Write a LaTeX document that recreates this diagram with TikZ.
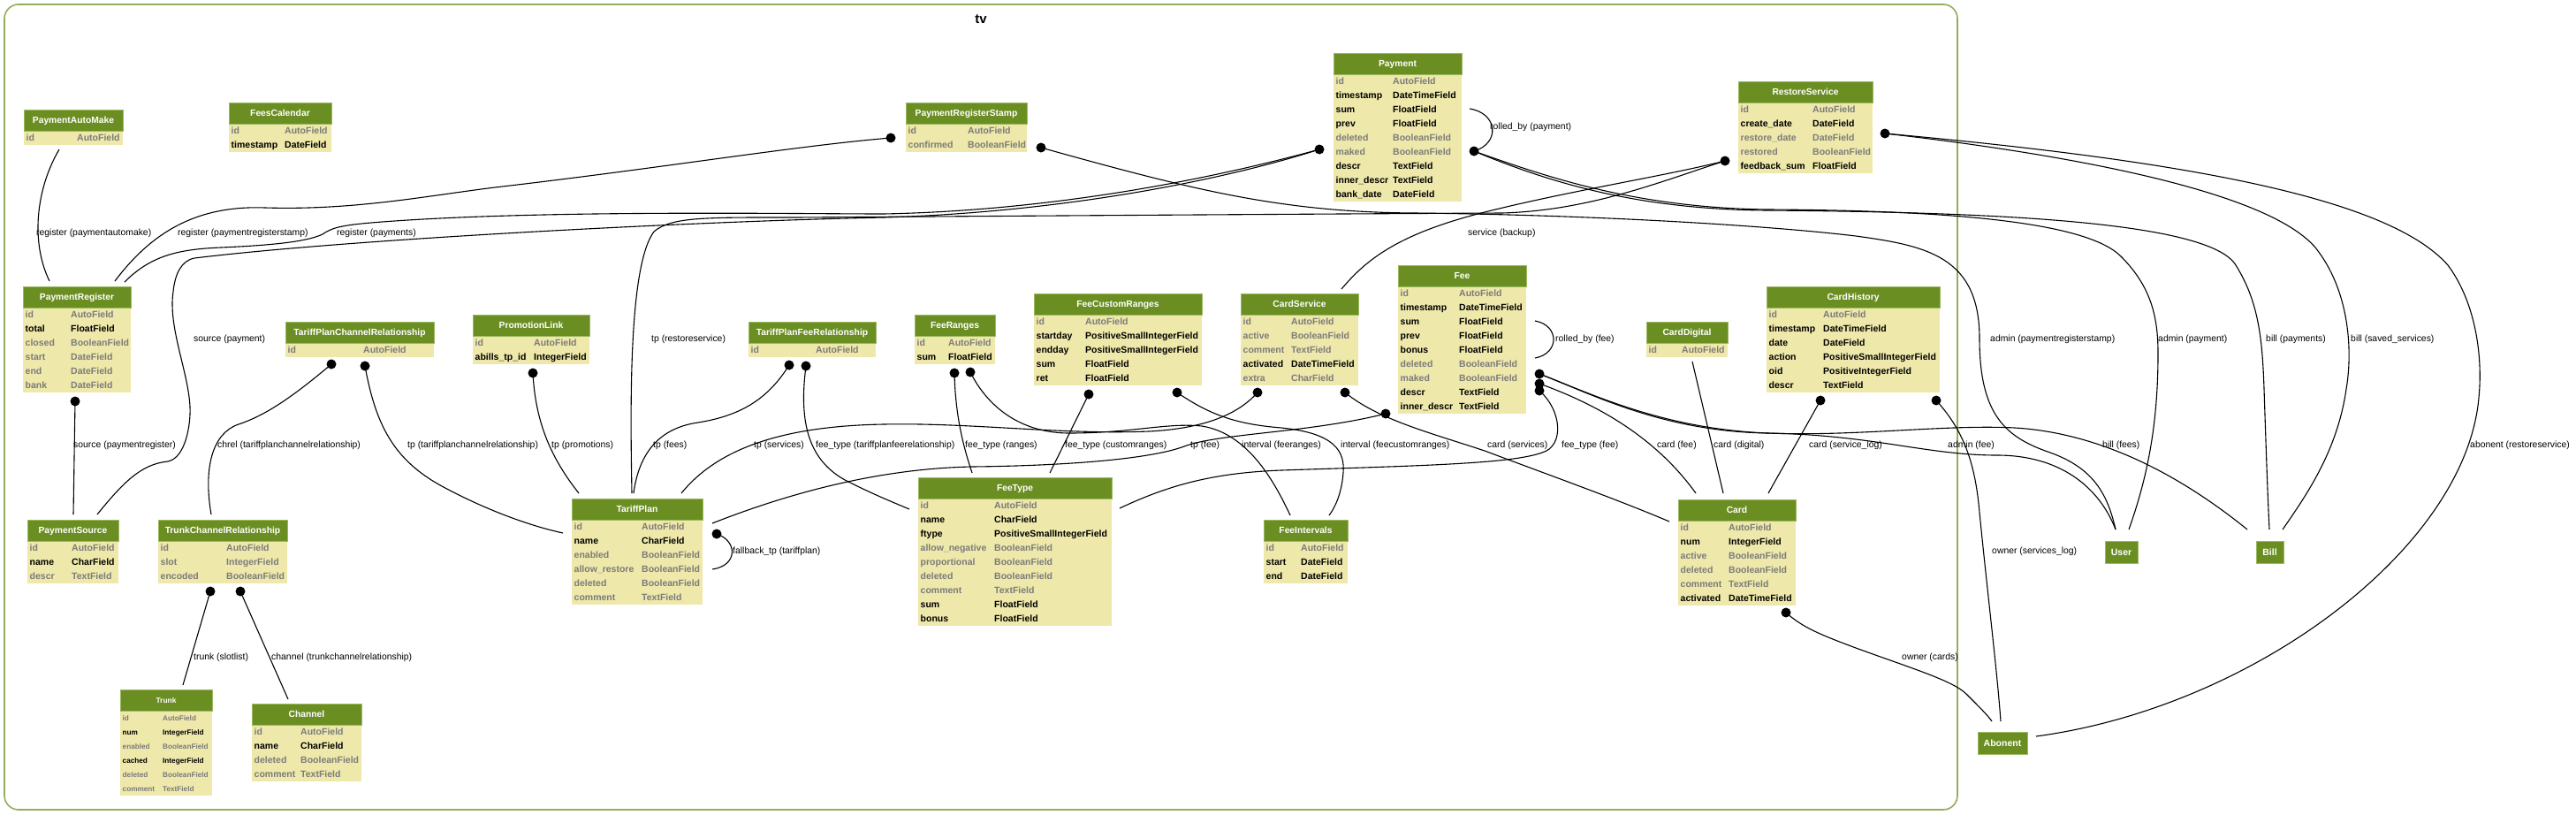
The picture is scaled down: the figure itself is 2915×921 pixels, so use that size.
\documentclass[tikz,border=0pt]{standalone}
\usepackage{fontspec}
\setmainfont{Liberation Sans}
\definecolor{hdr}{RGB}{107,142,35}
\definecolor{hdrline}{RGB}{155,185,95}
\definecolor{bdy}{RGB}{238,232,170}
\definecolor{gtxt}{RGB}{123,123,123}
\definecolor{clus}{RGB}{145,175,90}
\newcommand\fsz{10.5}
\newcommand\tsz{10.3}
\newcommand\dbtable[8]{%
  \pgfmathsetmacro\tbh{24+16*#7}%
  \node[tblframe, minimum width=#4pt, minimum height=\tbh pt, anchor=north west] (#1) at (#2,#3) {};
  \fill[bdy] (#2,#3+24) rectangle ++(#4,16*#7);
  \fill[hdr] (#2,#3) rectangle ++(#4,24);
  \draw[hdrline, line width=0.8pt] (#2,#3) rectangle ++(#4,24);
  \node[ttl] (#1-t) at (#2+#4/2,#3+15.8) {#6};
  \foreach \fa/\fb/\fc [count=\ri] in {#8} {
    \node[fld,\fc] (#1-a\ri) at (#2+2.5,#3+24+16*\ri-4.2) {\fa};
    \node[fld,\fc] (#1-b\ri) at (#5,#3+24+16*\ri-4.2) {\fb};
  }%
}
\tikzset{
  tblframe/.style={inner sep=0pt, outer sep=0pt},
  ttl/.style={anchor=base, inner sep=0pt, text=white, font=\fontsize{\tsz}{12}\selectfont\bfseries},
  fld/.style={anchor=base west, inner sep=0pt, font=\fontsize{\fsz}{12}\selectfont\bfseries},
  gry/.style={text=gtxt},
  blk/.style={text=black},
  lbl/.style={anchor=base west, inner sep=0pt, font=\fontsize{10.4}{12}\selectfont},
  conn/.style={line width=1.1pt, black},
  extbox/.style={fill=hdr, draw=hdrline, line width=0.8pt, text=white, inner sep=0pt, minimum height=25pt, font=\fontsize{10.5}{12}\selectfont\bfseries},
}
\begin{document}
\begin{tikzpicture}[x=1pt,y=-1pt]
\useasboundingbox (0,0) rectangle (2915,921);
\fill[white] (0,0) rectangle (2915,921);
% cluster
\draw[clus, line width=1.6pt, rounded corners=16pt] (5,5) rectangle (2215,916);
\node[font=\fontsize{15}{17}\selectfont\bfseries, inner sep=0pt] (tvtitle) at (1110,22) {tv};

% coordinates: dots
\coordinate (prs-l) at (1008,156);
\coordinate (prs-r) at (1178,167);
\coordinate (pay-l) at (1493,169);
\coordinate (pay-r) at (1668,171);
\coordinate (rs-l) at (1952,182);
\coordinate (rs-r) at (2133,151);
\coordinate (pr-b) at (85,454);
\coordinate (tpcr-1) at (375,412);
\coordinate (tpcr-2) at (413,414);
\coordinate (pl-b) at (603,422);
\coordinate (tpfr-1) at (893,413);
\coordinate (tpfr-2) at (912,414);
\coordinate (fr-1) at (1080,422);
\coordinate (fr-2) at (1098,421);
\coordinate (fcr-1) at (1232,446);
\coordinate (fcr-2) at (1332,444);
\coordinate (cs-1) at (1423,444);
\coordinate (cs-2) at (1522,444);
\coordinate (fee-l) at (1568,468);
\coordinate (fee-r1) at (1742,423);
\coordinate (fee-r2) at (1742,434);
\coordinate (fee-r3) at (1742,442);
\coordinate (tp-r) at (811,604);
\coordinate (ch-1) at (2060,453);
\coordinate (ch-2) at (2191,453);
\coordinate (card-b) at (2021,693);
\coordinate (tcr-1) at (238,669);
\coordinate (tcr-2) at (272,669);
% coordinates: free ends
\coordinate (pam-b) at (67,169);
\coordinate (pr-t1) at (56,318);
\coordinate (pr-t2) at (130,318);
\coordinate (pr-t3) at (141,319);
\coordinate (ps-t1) at (83,582);
\coordinate (ps-t2) at (110,582);
\coordinate (tcr-t) at (239,582);
\coordinate (tp-l) at (637,603);
\coordinate (tp-t1) at (655,558);
\coordinate (tp-t2) at (715,558);
\coordinate (tp-t3) at (717,558);
\coordinate (tp-t4) at (771,558);
\coordinate (tp-r2) at (806,592);
\coordinate (tp-r3) at (806,644);
\coordinate (ft-l) at (1029,576);
\coordinate (ft-t1) at (1100,535);
\coordinate (ft-t2) at (1188,535);
\coordinate (ft-r) at (1267,575);
\coordinate (fi-t1) at (1460,583);
\coordinate (fi-t2) at (1504,583);
\coordinate (cs-t) at (1518,327);
\coordinate (card-l) at (1889,590);
\coordinate (card-t1) at (1919,558);
\coordinate (card-t2) at (1950,558);
\coordinate (card-t3) at (2001,558);
\coordinate (cd-b) at (1915,409);
\coordinate (trunk-t) at (207,775);
\coordinate (chan-t) at (326,791);
\coordinate (user-t1) at (2394,599);
\coordinate (user-t2) at (2409,599);
\coordinate (bill-t1) at (2543,599);
\coordinate (bill-t2) at (2568,599);
\coordinate (bill-t3) at (2583,599);
\coordinate (ab-t1) at (2254,816);
\coordinate (ab-t2) at (2264,816);
\coordinate (ab-r) at (2304,833);
\coordinate (pay-lp) at (1663,123);
\coordinate (fee-lp1) at (1737,363);
\coordinate (fee-lp2) at (1737,405);

% edges
\draw[conn] (pam-b) .. controls (40,215) and (35,275) .. (pr-t1);
\draw[conn] (pr-t2) .. controls (170,265) and (220,232) .. (300,235) .. controls (400,238) and (480,222) .. (560,212) .. controls (750,190) and (900,165) .. (prs-l);
\draw[conn] (pr-t3) .. controls (170,290) and (200,282) .. (250,280) .. controls (320,277) and (350,272) .. (365,265) .. controls (375,258) and (385,255) .. (420,252) .. controls (600,237) and (900,242) .. (1000,242) .. controls (1200,238) and (1380,200) .. (pay-l);
\draw[conn] (ps-t2) .. controls (140,545) and (160,525) .. (190,522) .. controls (210,518) and (216,480) .. (215,460) .. controls (213,420) and (190,370) .. (196,330) .. controls (198,310) and (205,295) .. (220,292) .. controls (400,270) and (800,250) .. (1000,246) .. controls (1200,240) and (1380,205) .. (pay-l);
\draw[conn] (pr-b) -- (ps-t1);
\draw[conn] (tpcr-1) .. controls (330,450) and (300,470) .. (270,480) .. controls (240,490) and (230,530) .. (tcr-t);
\draw[conn] (tpcr-2) .. controls (425,480) and (445,520) .. (500,550) .. controls (550,577) and (600,595) .. (tp-l);
\draw[conn] (pl-b) .. controls (606,480) and (625,520) .. (tp-t1);
\draw[conn] (tp-t2) .. controls (713,450) and (712,300) .. (740,262) .. controls (760,245) and (800,246) .. (900,246) .. controls (1200,244) and (1500,242) .. (1700,241) .. controls (1800,238) and (1880,205) .. (rs-l);
\draw[conn] (cs-t) .. controls (1545,295) and (1580,265) .. (1680,240) .. controls (1780,215) and (1880,200) .. (rs-l);
\draw[conn] (prs-r) .. controls (1350,215) and (1450,240) .. (1600,241) .. controls (1800,243) and (2000,255) .. (2100,267) .. controls (2180,278) and (2240,290) .. (2240,383) .. controls (2240,470) and (2270,495) .. (2320,512) .. controls (2370,530) and (2385,560) .. (user-t1);
\draw[conn] (pay-r) .. controls (1750,200) and (1850,235) .. (2000,237) .. controls (2200,238) and (2360,250) .. (2400,290) .. controls (2435,325) and (2442,360) .. (2442,400) .. controls (2442,480) and (2430,540) .. (user-t2);
\draw[conn] (pay-r) .. controls (1750,205) and (1850,237) .. (2000,238) .. controls (2250,240) and (2500,250) .. (2530,300) .. controls (2555,340) and (2560,380) .. (2562,440) .. controls (2564,500) and (2566,560) .. (bill-t2);
\draw[conn] (rs-r) .. controls (2300,170) and (2560,210) .. (2620,280) .. controls (2660,330) and (2662,400) .. (2655,440) .. controls (2645,510) and (2610,560) .. (bill-t3);
\draw[conn] (rs-r) .. controls (2450,180) and (2700,220) .. (2770,300) .. controls (2800,340) and (2810,400) .. (2805,450) .. controls (2790,620) and (2550,800) .. (ab-r);
\draw[conn] (pay-lp) .. controls (1695,128) and (1698,162) .. (pay-r);
\draw[conn] (fee-lp1) .. controls (1765,368) and (1765,400) .. (fee-lp2);
\draw[conn] (tp-r) .. controls (835,612) and (835,640) .. (tp-r3);
\draw[conn] (tpfr-1) .. controls (870,450) and (840,470) .. (790,478) .. controls (740,485) and (722,520) .. (tp-t3);
\draw[conn] (cs-1) .. controls (1400,470) and (1360,485) .. (1300,488) .. controls (1200,492) and (1100,478) .. (1000,480) .. controls (880,482) and (810,510) .. (tp-t4);
\draw[conn] (fee-l) .. controls (1480,490) and (1380,490) .. (1340,505) .. controls (1300,520) and (1200,527) .. (1100,528) .. controls (1000,530) and (900,555) .. (tp-r2);
\draw[conn] (tpfr-2) .. controls (905,470) and (910,520) .. (960,545) .. controls (990,560) and (1010,568) .. (ft-l);
\draw[conn] (fr-1) .. controls (1081,470) and (1090,505) .. (ft-t1);
\draw[conn] (fr-2) .. controls (1120,465) and (1160,490) .. (1210,490) .. controls (1280,490) and (1320,478) .. (1360,482) .. controls (1410,490) and (1440,540) .. (fi-t1);
\draw[conn] (fcr-1) -- (ft-t2);
\draw[conn] (fcr-2) .. controls (1370,470) and (1400,480) .. (1450,484) .. controls (1510,490) and (1522,510) .. (1520,535) .. controls (1518,560) and (1510,575) .. (fi-t2);
\draw[conn] (cs-2) .. controls (1560,475) and (1620,490) .. (1680,510) .. controls (1760,540) and (1830,565) .. (card-l);
\draw[conn] (fee-r3) .. controls (1768,465) and (1770,505) .. (1745,512) .. controls (1710,525) and (1600,527) .. (1450,532) .. controls (1370,535) and (1320,550) .. (ft-r);
\draw[conn] (fee-r2) .. controls (1800,455) and (1870,490) .. (card-t1);
\draw[conn] (fee-r1) .. controls (1800,445) and (1880,488) .. (2000,490) .. controls (2120,492) and (2180,515) .. (2260,515) .. controls (2330,515) and (2375,550) .. (user-t1);
\draw[conn] (fee-r1) .. controls (1800,445) and (1880,485) .. (2000,490) .. controls (2100,494) and (2200,480) .. (2280,484) .. controls (2380,490) and (2470,540) .. (bill-t1);
\draw[conn] (cd-b) -- (card-t2);
\draw[conn] (ch-1) -- (card-t3);
\draw[conn] (ch-2) .. controls (2220,485) and (2235,520) .. (2240,580) .. controls (2250,680) and (2260,760) .. (ab-t2);
\draw[conn] (card-b) .. controls (2040,710) and (2060,718) .. (2100,733) .. controls (2160,755) and (2210,770) .. (2225,785) .. controls (2240,800) and (2250,810) .. (ab-t1);
\draw[conn] (tcr-1) -- (trunk-t);
\draw[conn] (tcr-2) -- (chan-t);

% tables
\dbtable{PaymentAutoMake}{27}{124}{112}{87}{PaymentAutoMake}{1}{id/AutoField/gry}
\dbtable{FeesCalendar}{259}{116}{116}{322}{FeesCalendar}{2}{id/AutoField/gry, timestamp/DateField/blk}
\dbtable{PaymentRegisterStamp}{1025}{116}{137}{1095}{PaymentRegisterStamp}{2}{id/AutoField/gry, confirmed/BooleanField/gry}
\dbtable{Payment}{1509}{60}{145}{1576}{Payment}{9}{id/AutoField/gry, timestamp/DateTimeField/blk, sum/FloatField/blk, prev/FloatField/blk, deleted/BooleanField/gry, maked/BooleanField/gry, descr/TextField/blk, inner\_descr/TextField/blk, bank\_date/DateField/blk}
\dbtable{RestoreService}{1967}{92}{152}{2051}{RestoreService}{5}{id/AutoField/gry, create\_date/DateField/blk, restore\_date/DateField/gry, restored/BooleanField/gry, feedback\_sum/FloatField/blk}
\dbtable{PaymentRegister}{26}{324}{122}{80}{PaymentRegister}{6}{id/AutoField/gry, total/FloatField/blk, closed/BooleanField/gry, start/DateField/gry, end/DateField/gry, bank/DateField/gry}
\dbtable{TPCR}{323}{364}{168}{411}{TariffPlanChannelRelationship}{1}{id/AutoField/gry}
\dbtable{PromotionLink}{535}{356}{132}{604}{PromotionLink}{2}{id/AutoField/gry, abills\_tp\_id/IntegerField/blk}
\dbtable{TPFR}{847}{364}{144}{923}{TariffPlanFeeRelationship}{1}{id/AutoField/gry}
\dbtable{FeeRanges}{1035}{356}{91}{1073}{FeeRanges}{2}{id/AutoField/gry, sum/FloatField/blk}
\dbtable{FeeCustomRanges}{1170}{332}{190}{1228}{FeeCustomRanges}{5}{id/AutoField/gry, startday/PositiveSmallIntegerField/blk, endday/PositiveSmallIntegerField/blk, sum/FloatField/blk, ret/FloatField/blk}
\dbtable{CardService}{1404}{332}{133}{1461}{CardService}{5}{id/AutoField/gry, active/BooleanField/gry, comment/TextField/gry, activated/DateTimeField/blk, extra/CharField/gry}
\dbtable{Fee}{1582}{300}{145}{1651}{Fee}{9}{id/AutoField/gry, timestamp/DateTimeField/blk, sum/FloatField/blk, prev/FloatField/blk, bonus/FloatField/blk, deleted/BooleanField/gry, maked/BooleanField/gry, descr/TextField/blk, inner\_descr/TextField/blk}
\dbtable{CardDigital}{1863}{364}{92}{1903}{CardDigital}{1}{id/AutoField/gry}
\dbtable{CardHistory}{1999}{324}{196}{2063}{CardHistory}{6}{id/AutoField/gry, timestamp/DateTimeField/blk, date/DateField/blk, action/PositiveSmallIntegerField/blk, oid/PositiveIntegerField/blk, descr/TextField/blk}
\dbtable{PaymentSource}{31}{588}{103}{81}{PaymentSource}{3}{id/AutoField/gry, name/CharField/blk, descr/TextField/gry}
\dbtable{TCR}{179}{588}{146}{256}{TrunkChannelRelationship}{3}{id/AutoField/gry, slot/IntegerField/gry, encoded/BooleanField/gry}
\dbtable{TariffPlan}{647}{564}{148}{726}{TariffPlan}{6}{id/AutoField/gry, name/CharField/blk, enabled/BooleanField/gry, allow\_restore/BooleanField/gry, deleted/BooleanField/gry, comment/TextField/gry}
\dbtable{FeeType}{1039}{540}{219}{1125}{FeeType}{9}{id/AutoField/gry, name/CharField/blk, ftype/PositiveSmallIntegerField/blk, allow\_negative/BooleanField/gry, proportional/BooleanField/gry, deleted/BooleanField/gry, comment/TextField/gry, sum/FloatField/blk, bonus/FloatField/blk}
\dbtable{FeeIntervals}{1430}{588}{95}{1472}{FeeIntervals}{3}{id/AutoField/gry, start/DateField/blk, end/DateField/blk}
\dbtable{Card}{1899}{565}{133}{1956}{Card}{6}{id/AutoField/gry, num/IntegerField/blk, active/BooleanField/gry, deleted/BooleanField/gry, comment/TextField/gry, activated/DateTimeField/blk}
\begingroup
\renewcommand\fsz{8.2}\renewcommand\tsz{8.4}
\dbtable{Trunk}{136}{780}{104}{184}{Trunk}{6}{id/AutoField/gry, num/IntegerField/blk, enabled/BooleanField/gry, cached/IntegerField/blk, deleted/BooleanField/gry, comment/TextField/gry}
\endgroup
\dbtable{Channel}{285}{796}{124}{340}{Channel}{4}{id/AutoField/gry, name/CharField/blk, deleted/BooleanField/gry, comment/TextField/gry}

% external models
\node[extbox, minimum width=37pt] (User) at (2400.5,624.5) {User};
\node[extbox, minimum width=31pt] (Bill) at (2568.5,624.5) {Bill};
\node[extbox, minimum width=56pt] (Abonent) at (2266,840.5) {Abonent};

% dots
\foreach \d in {prs-l,prs-r,pay-l,pay-r,rs-l,rs-r,pr-b,tpcr-1,tpcr-2,pl-b,tpfr-1,tpfr-2,fr-1,fr-2,fcr-1,fcr-2,cs-1,cs-2,fee-l,fee-r1,fee-r2,fee-r3,tp-r,ch-1,ch-2,card-b,tcr-1,tcr-2}
  \fill (\d) circle[radius=5.5pt];

% labels
\node[lbl] (l01) at (41,266.7) {register (paymentautomake)};
\node[lbl] (l02) at (201,266.7) {register (paymentregisterstamp)};
\node[lbl] (l03) at (381,266.7) {register (payments)};
\node[lbl] (l04) at (219,386.7) {source (payment)};
\node[lbl] (l05) at (83,506.7) {source (paymentregister)};
\node[lbl] (l06) at (246,506.7) {chrel (tariffplanchannelrelationship)};
\node[lbl] (l07) at (461,506.7) {tp (tariffplanchannelrelationship)};
\node[lbl] (l08) at (624,506.7) {tp (promotions)};
\node[lbl] (l09) at (737,386.7) {tp (restoreservice)};
\node[lbl] (l10) at (739,506.7) {tp (fees)};
\node[lbl] (l11) at (853,506.7) {tp (services)};
\node[lbl] (l12) at (923,506.7) {fee\_type (tariffplanfeerelationship)};
\node[lbl] (l13) at (1092,506.7) {fee\_type (ranges)};
\node[lbl] (l14) at (1205,506.7) {fee\_type (customranges)};
\node[lbl] (l15) at (1347,506.7) {tp (fee)};
\node[lbl] (l16) at (1405,506.7) {interval (feeranges)};
\node[lbl] (l17) at (1517,506.7) {interval (feecustomranges)};
\node[lbl] (l18) at (1683,506.7) {card (services)};
\node[lbl] (l19) at (1767,506.7) {fee\_type (fee)};
\node[lbl] (l20) at (1875,506.7) {card (fee)};
\node[lbl] (l21) at (1939,506.7) {card (digital)};
\node[lbl] (l22) at (2047,506.7) {card (service\_log)};
\node[lbl] (l23) at (2204,506.7) {admin (fee)};
\node[lbl] (l24) at (2379,506.7) {bill (fees)};
\node[lbl] (l25) at (2795,506.7) {abonent (restoreservice)};
\node[lbl] (l26) at (2252,386.7) {admin (paymentregisterstamp)};
\node[lbl] (l27) at (2442,386.7) {admin (payment)};
\node[lbl] (l28) at (2564,386.7) {bill (payments)};
\node[lbl] (l29) at (2660,386.7) {bill (saved\_services)};
\node[lbl] (l30) at (2254,626.7) {owner (services\_log)};
\node[lbl] (l31) at (2152,746.7) {owner (cards)};
\node[lbl] (l32) at (219,746.7) {trunk (slotlist)};
\node[lbl] (l33) at (307,746.7) {channel (trunkchannelrelationship)};
\node[lbl] (l34) at (829,626.7) {fallback\_tp (tariffplan)};
\node[lbl] (l35) at (1686,146.7) {rolled\_by (payment)};
\node[lbl] (l36) at (1760,386.7) {rolled\_by (fee)};
\node[lbl] (l37) at (1661,266.7) {service (backup)};
\end{tikzpicture}
\end{document}
